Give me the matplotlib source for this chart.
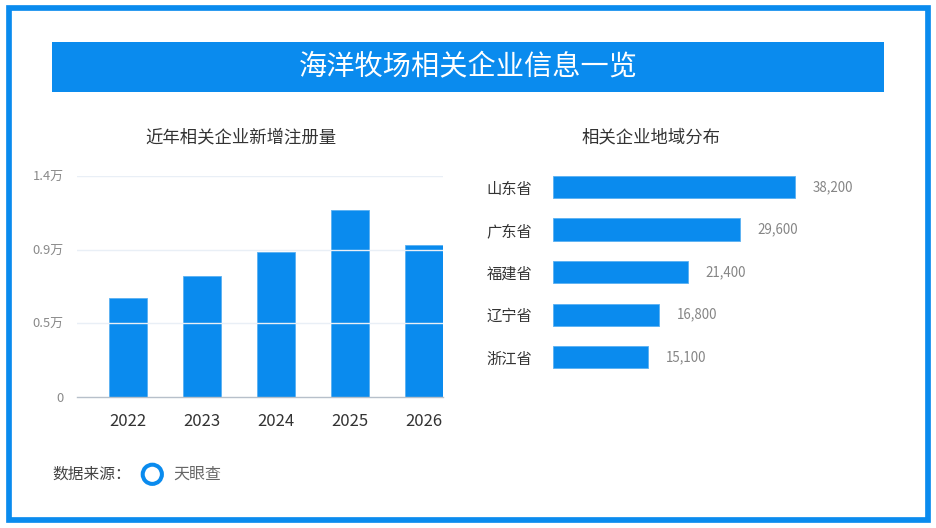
import matplotlib
matplotlib.use("Agg")
import matplotlib.pyplot as plt
from matplotlib.patches import Rectangle, Circle

plt.rcParams['font.family'] = ['Noto Sans CJK SC', 'DejaVu Sans']

# ---- data ----
title = "海洋牧场相关企业信息一览"
left_title = "近年相关企业新增注册量"
right_title = "相关企业地域分布"
years = ["2022", "2023", "2024", "2025", "2026"]
new_regs = [6240, 7640, 9180, 11860, 9620]
y_ticks = [0, 14000 / 3, 28000 / 3, 14000]
y_tick_labels = ["0", "0.5万", "0.9万", "1.4万"]
provinces = ["山东省", "广东省", "福建省", "辽宁省", "浙江省"]
prov_counts = [38200, 29600, 21400, 16800, 15100]
source_label = "数据来源："
source_name = "天眼查"

BLUE = "#0A8BEE"
W, H = 936, 528

fig = plt.figure(figsize=(W / 100, H / 100), dpi=100)
fig.patch.set_facecolor("white")


def fx(x):
    return x / W


def fy(y):
    return 1 - y / H


# outer border
fig.patches.append(Rectangle((fx(8.6), fy(519.5)), fx(928 - 8.6), (519.5 - 8.3) / H,
                             transform=fig.transFigure, fill=False,
                             edgecolor=BLUE, linewidth=4.1, zorder=0))
# title banner
fig.patches.append(Rectangle((fx(52.3), fy(92.3)), fx(884 - 52.3), 50 / H,
                             transform=fig.transFigure, facecolor=BLUE,
                             edgecolor="none", zorder=0))
fig.text(fx(468), fy(67.5), title, color="white", fontsize=20.3,
         ha="center", va="center")

# sub titles
fig.text(fx(241), fy(137), left_title, color="#333333", fontsize=12.5,
         ha="center", va="center")
fig.text(fx(651), fy(137), right_title, color="#333333", fontsize=12.5,
         ha="center", va="center")

# ---- left bar chart ----
axL = fig.add_axes([fx(76.7), fy(396.7), fx(366), 220.7 / H])
x = list(range(len(years)))
axL.bar(x, new_regs, width=0.51, color=BLUE, edgecolor="#5AB0F2",
        linewidth=0.6, zorder=2)
axL.set_xlim(-0.693, 4.255)
axL.set_ylim(0, 14000)
axL.set_yticks(y_ticks)
axL.set_yticklabels(y_tick_labels, color="#8A8A8A", fontsize=9.3)
axL.set_xticks(x)
axL.set_xticklabels(years, color="#333333", fontsize=12)
axL.tick_params(axis="both", length=0)
axL.tick_params(axis="y", pad=9.5)
axL.tick_params(axis="x", pad=12)
for t in y_ticks[1:]:
    axL.axhline(t, color="#E9EFF6", linewidth=1.0, zorder=3)
for s in ["top", "right", "left"]:
    axL.spines[s].set_visible(False)
axL.spines["bottom"].set_color("#B7C0CA")
axL.spines["bottom"].set_linewidth(1.0)
axL.spines["bottom"].set_zorder(4)
axL.set_facecolor("none")

# ---- right horizontal bar chart ----
xmax = 52230
axR = fig.add_axes([fx(552.7), fy(378.6), fx(884 - 552.7), (378.6 - 165.7) / H])
yy = list(range(len(provinces)))
axR.barh(yy, prov_counts, height=0.52, color=BLUE, edgecolor="#5AB0F2",
         linewidth=0.6)
axR.set_xlim(0, xmax)
axR.set_ylim(4.5, -0.5)
axR.set_yticks(yy)
axR.set_yticklabels(provinces, color="#333333", fontsize=11)
axR.set_xticks([])
axR.tick_params(axis="y", length=0, pad=14.5)
for s in axR.spines.values():
    s.set_visible(False)
axR.set_facecolor("none")
for yi, v in zip(yy, prov_counts):
    axR.annotate(f"{v:,}", (v, yi), xytext=(12.5, 0), textcoords="offset points",
                 ha="left", va="center", color="#858585", fontsize=9.6)

# ---- footer ----
fig.text(fx(52), fy(474.5), source_label, color="#444444", fontsize=11.3,
         ha="left", va="center")
axC = fig.add_axes([0, 0, 1, 1], facecolor="none")
axC.set_xlim(0, W)
axC.set_ylim(H, 0)
axC.axis("off")
axC.add_patch(Circle((152.3, 474.3), 9.6, fill=False, edgecolor=BLUE,
                     linewidth=2.9))
fig.text(fx(173), fy(474.5), source_name, color="#666666", fontsize=11.5,
         ha="left", va="center")

fig.savefig("out.png", dpi=100, facecolor="white")
